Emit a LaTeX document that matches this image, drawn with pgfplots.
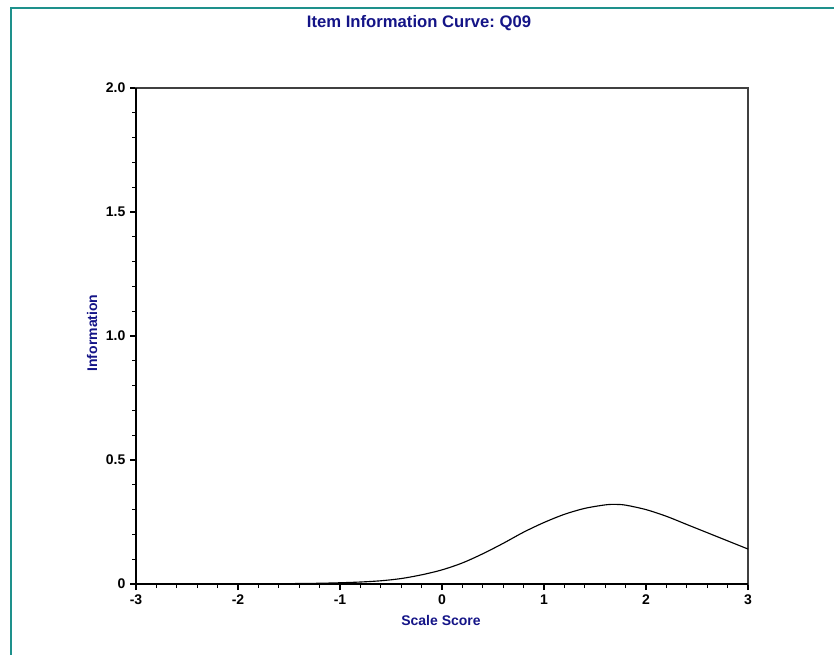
\documentclass[border=0pt]{standalone}
\usepackage{fontspec}
\setmainfont{Liberation Sans}
\usepackage{pgfplots}
\pgfplotsset{compat=1.18}
\definecolor{navytext}{RGB}{20,20,135}
\definecolor{frameteal}{RGB}{30,145,140}
\frenchspacing
\begin{document}
\begin{tikzpicture}
\path[use as bounding box] (0pt,0pt) rectangle (625.5pt,490.5pt);
\draw[frameteal, line width=1.3pt] (8.25pt,-5pt) -- (8.25pt,484.5pt) -- (640pt,484.5pt);
\begin{axis}[
  at={(102pt,52.5pt)}, anchor=south west,
  scale only axis, width=459pt, height=372pt,
  xmin=-3, xmax=3, ymin=0, ymax=2,
  axis line style={draw=black!75, line width=0.9pt},
  xtick={-3,-2,-1,0,1,2,3},
  xticklabels={-3,-2,-1,0,1,2,3},
  ytick={0,0.5,1,1.5,2},
  yticklabels={0,0.5,1.0,1.5,2.0},
  minor x tick num=4, minor y tick num=4,
  tick align=outside,
  xtick pos=bottom, ytick pos=left,
  major tick length=4.5pt, minor tick length=3pt,
  tick style={black, line width=0.8pt},
  ticklabel style={font=\bfseries\fontsize{10.5}{12}\selectfont},
  clip=false,
]
\addplot[black, line width=0.85pt, smooth] coordinates {
(-3.0,0.0000) (-2.5,0.0001) (-2.0,0.0003) (-1.6,0.001) (-1.4,0.002)
(-1.2,0.003) (-1.0,0.005) (-0.8,0.008) (-0.6,0.013) (-0.4,0.022)
(-0.2,0.037) (0.0,0.057) (0.2,0.085) (0.4,0.122) (0.6,0.164)
(0.8,0.209) (1.0,0.248) (1.2,0.281) (1.4,0.305) (1.6,0.319)
(1.7,0.321) (1.8,0.318) (2.0,0.300) (2.2,0.273) (2.4,0.240)
(2.6,0.207) (2.8,0.174) (3.0,0.141)
};
\draw[black, line width=1.5pt] (rel axis cs:0,1) -- (rel axis cs:0,0) -- (rel axis cs:1,0);
\end{axis}
\node[navytext, font=\bfseries\fontsize{12.5}{14}\selectfont] at (314.25pt,473.25pt) {Item Information Curve: Q09};
\node[navytext, font=\bfseries\fontsize{10.5}{12}\selectfont] at (330.75pt,25.5pt) {Scale Score};
\node[navytext, font=\bfseries\fontsize{10.5}{12}\selectfont, rotate=90] at (69pt,240.75pt) {Information};
\end{tikzpicture}
\end{document}
